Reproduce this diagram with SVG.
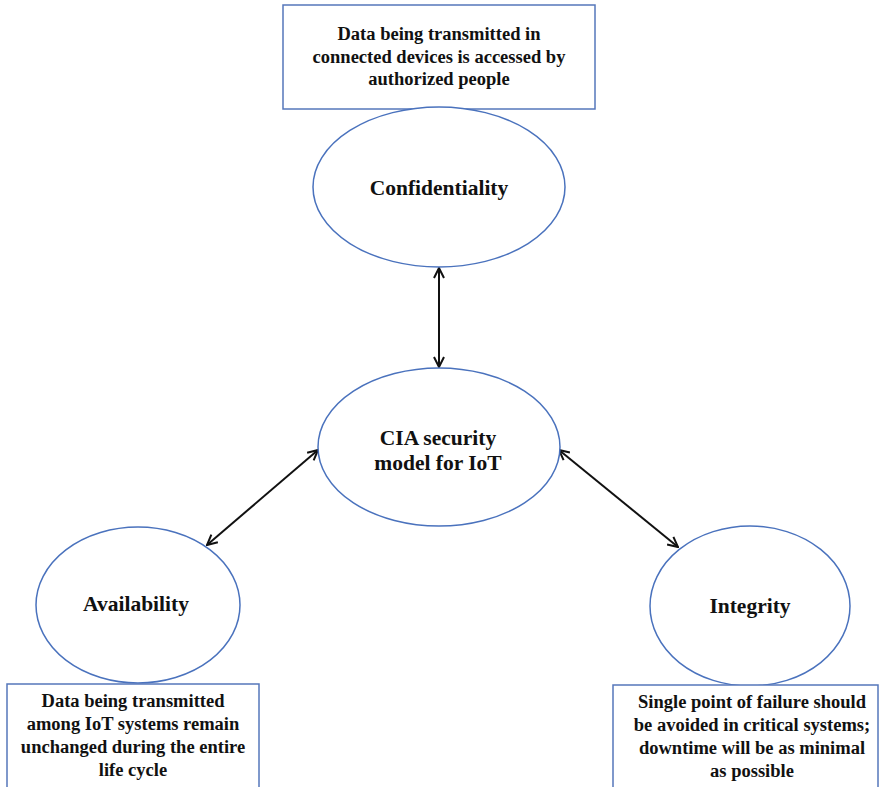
<svg xmlns="http://www.w3.org/2000/svg" width="880" height="787" viewBox="0 0 880 787">
  <defs>
    <marker id="head" viewBox="0 0 12 12" refX="11" refY="6" markerWidth="12" markerHeight="12" markerUnits="userSpaceOnUse" orient="auto-start-reverse">
      <path d="M1,1 L11,6 L1,11" fill="none" stroke="#111" stroke-width="2"/>
    </marker>
  </defs>
  <style>
    .node { fill: #fff; stroke: #4a72bd; stroke-width: 1.5; }
    .box { fill: #fff; stroke: #5577bb; stroke-width: 1.5; }
    .label { font-family: "Liberation Serif", "Times New Roman", serif; font-weight: bold; fill: #111; text-anchor: middle; }
    .big { font-size: 21.5px; }
    .small { font-size: 18.5px; }
    .link { stroke: #111; stroke-width: 2; fill: none; marker-start: url(#head); marker-end: url(#head); }
  </style>
  <rect width="880" height="787" fill="#fff"/>

  <g id="connectors">
    <line class="link" x1="439" y1="268" x2="439" y2="367"/>
    <line class="link" x1="318" y1="450" x2="207" y2="545"/>
    <line class="link" x1="559" y1="450" x2="678" y2="547"/>
  </g>

  <g id="confidentiality-note">
    <rect class="box" x="283" y="5" width="312" height="104"/>
    <text class="label small" x="439" y="40">Data being transmitted in</text>
    <text class="label small" x="439" y="63">connected devices is accessed by</text>
    <text class="label small" x="439" y="85">authorized people</text>
  </g>

  <g id="confidentiality">
    <ellipse class="node" cx="439" cy="187" rx="126" ry="80"/>
    <text class="label big" x="439" y="195">Confidentiality</text>
  </g>

  <g id="cia-model">
    <ellipse class="node" cx="439" cy="447" rx="121" ry="79"/>
    <text class="label big" x="438" y="445">CIA security</text>
    <text class="label big" x="438" y="470">model for IoT</text>
  </g>

  <g id="availability">
    <ellipse class="node" cx="138" cy="605" rx="102" ry="78"/>
    <text class="label big" x="136" y="611">Availability</text>
  </g>

  <g id="availability-note">
    <rect class="box" x="7" y="684" width="252" height="120"/>
    <text class="label small" x="133" y="707">Data being transmitted</text>
    <text class="label small" x="133" y="730">among IoT systems remain</text>
    <text class="label small" x="133" y="753">unchanged during the entire</text>
    <text class="label small" x="133" y="776">life cycle</text>
  </g>

  <g id="integrity">
    <ellipse class="node" cx="750" cy="606" rx="100" ry="80"/>
    <text class="label big" x="750" y="613">Integrity</text>
  </g>

  <g id="integrity-note">
    <rect class="box" x="613" y="685" width="265" height="120"/>
    <text class="label small" x="752" y="708">Single point of failure should</text>
    <text class="label small" x="752" y="731">be avoided in critical systems;</text>
    <text class="label small" x="752" y="754">downtime will be as minimal</text>
    <text class="label small" x="752" y="777">as possible</text>
  </g>
</svg>
